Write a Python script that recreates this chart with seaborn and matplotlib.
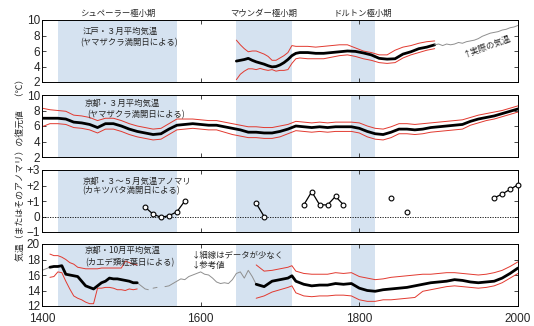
import matplotlib
matplotlib.use("Agg")
import matplotlib.pyplot as plt
import seaborn as sns
import pandas as pd

# --- minimum periods (years) ---
minima_names = ["シュペーラー極小期", "マウンダー極小期", "ドルトン極小期"]
minima_start = [1420, 1645, 1790]
minima_end = [1570, 1715, 1820]

# --- Edo, March mean temperature (Yamazakura) ---
edo_years = [1645, 1650, 1655, 1660, 1665, 1670, 1675, 1680, 1685, 1690, 1695, 1700, 1705,
             1710, 1715, 1720, 1725, 1735, 1745, 1755, 1765, 1775, 1785, 1795, 1805, 1815,
             1825, 1835, 1845, 1855, 1865, 1875, 1885, 1895]
edo_mean = [4.7, 4.8, 4.9, 5.05, 4.8, 4.6, 4.45, 4.3, 4.1, 3.95, 4.0, 4.2, 4.5,
            4.9, 5.4, 5.7, 5.8, 5.8, 5.7, 5.7, 5.8, 5.9, 6.0, 5.95, 5.75, 5.5,
            5.05, 4.95, 5.0, 5.6, 5.9, 6.3, 6.5, 6.8]
edo_hi = [7.4, 6.8, 6.3, 5.9, 6.0, 6.0, 5.8, 5.6, 5.3, 4.8, 4.8, 5.1, 5.4,
          5.8, 6.7, 6.6, 6.6, 6.6, 6.5, 6.6, 6.7, 6.8, 6.8, 6.4, 6.0, 5.8,
          5.5, 5.5, 6.1, 6.5, 6.7, 7.0, 7.2, 7.3]
edo_lo = [2.3, 3.0, 3.4, 3.7, 3.7, 3.6, 3.75, 3.6, 3.5, 3.6, 3.4, 3.5, 3.5,
          3.6, 4.4, 5.0, 5.1, 5.0, 5.0, 5.0, 5.2, 5.4, 5.5, 5.3, 5.0, 4.8,
          4.5, 4.4, 4.5, 5.1, 5.5, 5.8, 6.1, 6.3]
# observed temperature, Tokyo
obs_years = [1895, 1900, 1905, 1910, 1915, 1920, 1925, 1930, 1935, 1940, 1945,
             1950, 1955, 1960, 1965, 1970, 1975, 1980, 1985, 1990, 1995, 2000]
obs_temp = [6.8, 6.9, 6.7, 6.9, 6.8, 6.9, 7.1, 7.0, 7.2, 7.3, 7.4,
            7.6, 7.9, 8.1, 8.3, 8.4, 8.5, 8.7, 8.8, 9.0, 9.1, 9.3]

# --- Kyoto, March mean temperature (Yamazakura) ---
kyo3_years = list(range(1400, 2001, 10))
kyo3_mean = [7.0, 7.0, 7.0, 6.9, 6.5, 6.4, 6.2, 5.8, 6.3, 6.3, 6.0, 5.6, 5.3, 5.1, 4.9, 5.0,
             5.6, 6.1, 6.2, 6.3, 6.2, 6.1, 6.1, 5.9, 5.7, 5.5, 5.2, 5.2, 5.1, 5.1, 5.3, 5.6,
             6.0, 5.9, 5.8, 5.9, 5.8, 5.9, 5.9, 5.9, 5.7, 5.3, 5.0, 4.9, 5.2, 5.6, 5.6, 5.5,
             5.6, 5.8, 5.9, 6.0, 6.1, 6.2, 6.6, 6.9, 7.1, 7.3, 7.6, 7.9, 8.2]
kyo3_hi = [8.3, 8.1, 8.0, 7.9, 7.4, 7.3, 7.1, 6.7, 7.0, 7.0, 6.7, 6.3, 6.0, 5.8, 5.6, 5.7,
           6.3, 6.9, 6.9, 6.9, 6.8, 6.7, 6.7, 6.5, 6.3, 6.1, 5.9, 5.9, 5.8, 5.8, 6.0, 6.2,
           6.6, 6.5, 6.4, 6.5, 6.4, 6.5, 6.5, 6.5, 6.4, 6.0, 5.7, 5.6, 5.9, 6.3, 6.3, 6.2,
           6.3, 6.4, 6.5, 6.6, 6.7, 6.8, 7.1, 7.4, 7.6, 7.8, 8.0, 8.3, 8.6]
kyo3_lo = [5.9, 6.3, 6.3, 6.2, 5.8, 5.7, 5.5, 5.1, 5.6, 5.6, 5.3, 4.9, 4.6, 4.4, 4.2, 4.3,
           4.9, 5.5, 5.6, 5.7, 5.6, 5.5, 5.5, 5.2, 4.9, 4.7, 4.5, 4.5, 4.4, 4.4, 4.6, 5.0,
           5.4, 5.3, 5.2, 5.3, 5.2, 5.3, 5.3, 5.3, 5.1, 4.6, 4.3, 4.2, 4.5, 5.0, 5.0, 4.9,
           5.0, 5.2, 5.3, 5.4, 5.5, 5.6, 6.1, 6.4, 6.7, 6.9, 7.2, 7.5, 7.8]

# --- Kyoto, Mar-May anomaly (Kakitsubata) ---
kaki_years = [1530, 1540, 1550, 1560, 1570, 1580, 1670, 1680,
              1730, 1740, 1750, 1760, 1770, 1780, 1840, 1860, 1970, 1980, 1990, 2000]
kaki_anom = [0.6, 0.15, -0.05, 0.05, 0.3, 1.0, 0.85, 0.0,
             0.75, 1.6, 0.75, 0.75, 1.3, 0.75, 1.2, 0.3, 1.2, 1.45, 1.75, 2.05]
kaki_group = [1, 1, 1, 1, 1, 1, 2, 2, 3, 3, 3, 3, 3, 3, 4, 5, 6, 6, 6, 6]

# --- Kyoto, October mean temperature (Kaede) ---
oct_a_years = [1410, 1415, 1420, 1425, 1430, 1435, 1440, 1445, 1450, 1455, 1460, 1465,
               1470, 1475, 1480, 1485, 1490, 1495, 1500, 1505, 1510, 1515, 1520]
oct_a_mean = [17.0, 17.1, 17.1, 17.2, 16.1, 16.0, 15.9, 15.8, 15.2, 14.6, 14.4, 14.2,
              14.6, 15.0, 15.2, 15.6, 15.5, 15.5, 15.4, 15.3, 15.2, 15.0, 15.0]
oct_a_hi = [18.7, 18.5, 18.5, 18.3, 18.0, 17.6, 17.4, 17.0, 16.9, 16.8, 16.8, 16.8,
            16.8, 16.9, 16.9, 16.9, 16.9, 16.9, 16.9, 17.8, 17.6, 17.4, 17.3]
oct_a_lo = [15.7, 15.8, 16.4, 16.3, 15.2, 14.2, 13.3, 13.0, 12.8, 12.5, 12.3, 12.3,
            14.3, 14.3, 14.4, 14.4, 14.3, 14.1, 14.1, 14.0, 14.2, 14.1, 14.2]
oct_b_years = [1670, 1680, 1690, 1700, 1710, 1715, 1720, 1730, 1740, 1750, 1760, 1770,
               1780, 1790, 1800, 1810, 1820, 1830, 1840, 1850, 1860, 1870, 1880, 1890,
               1900, 1910, 1920, 1930, 1940, 1950, 1960, 1970, 1980, 1990, 2000]
oct_b_mean = [14.8, 14.5, 15.2, 15.4, 15.6, 15.9, 15.2, 14.8, 14.6, 14.7, 14.7, 14.9,
              14.8, 14.9, 14.3, 14.0, 13.9, 14.1, 14.2, 14.3, 14.4, 14.6, 14.8, 15.0,
              15.1, 15.2, 15.4, 15.3, 15.1, 15.0, 15.1, 15.2, 15.6, 16.2, 16.9]
oct_b_hi = [17.3, 16.5, 16.6, 16.8, 17.0, 17.2, 16.5, 16.2, 16.1, 16.1, 16.1, 16.3,
            16.2, 16.3, 15.8, 15.6, 15.4, 15.5, 15.7, 15.8, 15.9, 16.0, 16.1, 16.1,
            16.2, 16.3, 16.3, 16.2, 16.1, 16.0, 16.1, 16.3, 16.6, 17.1, 17.7]
oct_b_lo = [13.0, 13.3, 13.8, 14.1, 14.4, 14.6, 13.7, 13.3, 13.2, 13.3, 13.3, 13.4,
            13.4, 13.3, 12.8, 12.6, 12.6, 12.8, 12.8, 12.9, 13.0, 13.1, 13.9, 14.1,
            14.3, 14.5, 14.6, 14.5, 14.4, 14.3, 14.4, 14.6, 15.0, 15.6, 16.2]
# thin reference segments (few data)
ref_years = [[1400, 1405, 1410],
             [1520, 1525, 1530, 1534],
             [1540, 1545],
             [1555, 1560, 1565, 1570, 1575, 1580, 1585, 1590, 1595, 1600, 1605, 1610, 1615,
              1620, 1625, 1630, 1635, 1640, 1645, 1650, 1655, 1660, 1665, 1670]]
ref_temp = [[16.6, 16.8, 17.0],
            [15.0, 14.6, 14.2, 14.1],
            [14.3, 14.4],
            [14.5, 14.6, 14.9, 15.2, 15.5, 15.4, 15.8, 16.0, 16.2, 16.4, 16.1, 16.0, 15.6,
             15.1, 14.9, 15.0, 14.9, 15.4, 16.2, 16.4, 15.6, 16.6, 15.8, 14.8]]

RED = "#e2392f"
GRAY = "#8f8f8f"
SHADE = "#d5e2f0"
JP = ["Noto Sans CJK JP", "DejaVu Sans"]

sns.set_style("ticks")
plt.rcParams["font.family"] = ["Liberation Sans", "Noto Sans CJK JP", "DejaVu Sans"]

fig = plt.figure(figsize=(5.34, 3.26), dpi=100)
left, width = 42 / 534, 476 / 534
tops = [20, 95, 170, 244]
axes = [fig.add_axes([left, 1 - (t + 62) / 326, width, 62 / 326]) for t in tops]


def line(ax, x, y, color, lw, **kw):
    sns.lineplot(x=x, y=y, ax=ax, color=color, lw=lw, estimator=None, sort=False, **kw)


def band(ax, x, mean, hi, lo):
    line(ax, x, hi, RED, 0.7)
    line(ax, x, lo, RED, 0.7)
    line(ax, x, mean, "black", 2.0)


for ax in axes:
    for s, e in zip(minima_start, minima_end):
        ax.axvspan(s, e, color=SHADE, lw=0, zorder=0)

ax1, ax2, ax3, ax4 = axes

band(ax1, edo_years, edo_mean, edo_hi, edo_lo)
line(ax1, obs_years, obs_temp, GRAY, 0.7)

band(ax2, kyo3_years, kyo3_mean, kyo3_hi, kyo3_lo)

ax3.axhline(0, color="black", lw=0.6, ls=(0, (1.5, 1.5)))
kaki = pd.DataFrame({"year": kaki_years, "anom": kaki_anom, "group": kaki_group})
for g, d in kaki.groupby("group"):
    if len(d) > 1:
        line(ax3, d["year"], d["anom"], "black", 0.9)
sns.scatterplot(data=kaki, x="year", y="anom", ax=ax3, s=12, color="white",
                edgecolor="black", linewidth=0.8, zorder=5, legend=False, clip_on=False)

for yy, tt in zip(ref_years, ref_temp):
    line(ax4, yy, tt, GRAY, 0.7)
band(ax4, oct_a_years, oct_a_mean, oct_a_hi, oct_a_lo)
band(ax4, oct_b_years, oct_b_mean, oct_b_hi, oct_b_lo)

ylims = [(2, 10), (2, 10), (-1, 3), (12, 20)]
yticks = [[2, 4, 6, 8, 10], [2, 4, 6, 8, 10], [-1, 0, 1, 2, 3], [12, 14, 16, 18, 20]]
for ax, lim, tk in zip(axes, ylims, yticks):
    ax.set_xlim(1400, 2000)
    ax.set_ylim(*lim)
    ax.set_yticks(tk)
    ax.set_xticks([1400, 1600, 1800, 2000])
    ax.set_xlabel("")
    ax.set_ylabel("")
    ax.tick_params(direction="in", top=True, right=True, length=3, width=0.6,
                   labelsize=8.5, pad=1.5)
    for sp in ax.spines.values():
        sp.set_visible(True)
        sp.set_linewidth(0.7)
        sp.set_color("black")
    if ax is not ax4:
        ax.set_xticklabels([])
ax3.set_yticklabels(["−1", "0", "+1", "+2", "+3"])
ax4.tick_params(axis="x", pad=5)

# minimum period labels
for name, s, e in zip(minima_names, minima_start, minima_end):
    ax1.text((s + e) / 2, 1.11, name, transform=ax1.get_xaxis_transform(),
             ha="center", va="center", fontsize=6, family=JP)

kw = dict(ha="left", va="center", fontsize=6, family=JP)
ax1.text(0.086, 0.81, "江戸・３月平均気温", transform=ax1.transAxes, **kw)
ax1.text(0.080, 0.64, "(ヤマザクラ満開日による)", transform=ax1.transAxes, **kw)
ax2.text(0.090, 0.87, "京都・３月平均気温", transform=ax2.transAxes, **kw)
ax2.text(0.095, 0.69, "(ヤマザクラ満開日による)", transform=ax2.transAxes, **kw)
ax3.text(0.086, 0.82, "京都・３～５月気温アノマリ", transform=ax3.transAxes, **kw)
ax3.text(0.084, 0.66, "(カキツバタ満開日による)", transform=ax3.transAxes, **kw)
ax4.text(0.090, 0.89, "京都・10月平均気温", transform=ax4.transAxes, **kw)
ax4.text(0.090, 0.70, "(カエデ類紅葉日による)", transform=ax4.transAxes, **kw)
ax4.text(0.315, 0.82, "↓細線はデータが少なく", transform=ax4.transAxes, **kw)
ax4.text(0.315, 0.66, "↓参考値", transform=ax4.transAxes, **kw)
ax1.text(0.935, 0.58, "↑実際の気温", transform=ax1.transAxes, rotation=20,
         ha="center", va="center", fontsize=6, family=JP)

fig.text(0.038, 0.486, "気温（またはそのアノマリ）の復元値　（℃）", rotation=90,
         ha="center", va="center", fontsize=6.4, family=JP)

fig.savefig("out.png", dpi=100)
